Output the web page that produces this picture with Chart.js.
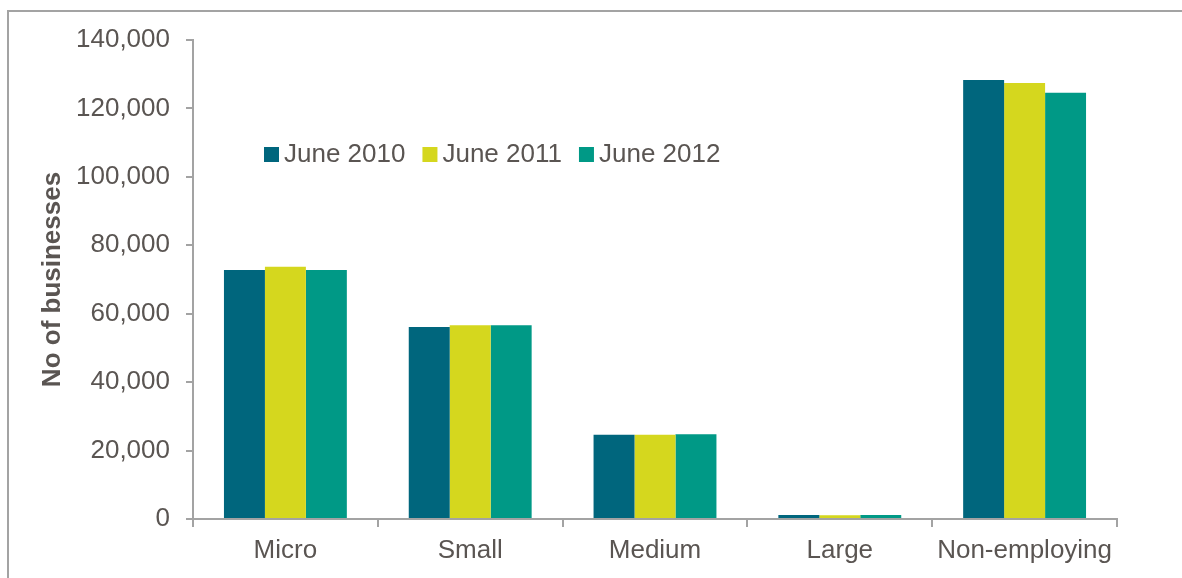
<!DOCTYPE html>
<html>
<head>
<meta charset="utf-8">
<script src="https://cdn.jsdelivr.net/npm/chart.js@4/dist/chart.umd.min.js"></script>
<style>
  html, body { margin: 0; padding: 0; background: #fff; }
  #wrap { position: relative; width: 1182px; height: 578px; overflow: hidden; }
  #frame { position: absolute; left: 7px; top: 10px; width: 1300px; height: 700px;
           border-left: 2px solid #a3a3a3; border-top: 2px solid #a3a3a3; }
  #businessChart { position: absolute; left: 0; top: 0; }
</style>
</head>
<body>
<div id="wrap">
  <div id="frame"></div>
  <canvas id="businessChart" width="1182" height="578"></canvas>
</div>
<script>
// Business counts by size band

const categories = ["Micro", "Small", "Medium", "Large", "Non-employing"];
const seriesLabels = ["June 2010", "June 2011", "June 2012"];
const june2010 = [72800, 56100, 24600, 1200, 128300];
const june2011 = [73700, 56600, 24600, 1100, 127400];
const june2012 = [72800, 56600, 24800, 1200, 124600];
const yTicks = [0, 20000, 40000, 60000, 80000, 100000, 120000, 140000];

const colors = ["#00667d", "#d5d71e", "#009986"];
const textColor = "#5a5552";
const axisColor = "#a3a3a3";
const FONT = "'Liberation Sans', Arial, sans-serif";

// legend drawn inside the plot area
const innerLegend = {
  id: "innerLegend",
  afterDraw(chart) {
    const ctx = chart.ctx;
    const area = chart.chartArea;
    let x = area.left + 71;
    const base = area.top + 122;
    ctx.save();
    ctx.font = "26px " + FONT;
    ctx.textBaseline = "alphabetic";
    chart.data.datasets.forEach((ds) => {
      ctx.fillStyle = ds.backgroundColor;
      ctx.fillRect(x, base - 15, 15, 15);
      ctx.fillStyle = textColor;
      ctx.fillText(ds.label, x + 20, base);
      x += 20 + ctx.measureText(ds.label).width + 17;
    });
    ctx.restore();
  }
};

const seriesData = [june2010, june2011, june2012];

new Chart(document.getElementById("businessChart").getContext("2d"), {
  type: "bar",
  data: {
    labels: categories,
    datasets: seriesLabels.map((label, i) => ({
      label,
      data: seriesData[i],
      backgroundColor: colors[i],
      borderWidth: 0,
      categoryPercentage: 0.665,
      barPercentage: 1
    }))
  },
  options: {
    responsive: false,
    animation: false,
    layout: { padding: { top: 40, right: 65, left: 0, bottom: 0 } },
    plugins: { legend: { display: false }, tooltip: { enabled: false } },
    scales: {
      x: {
        offset: true,
        afterFit: (scale) => { scale.height = 59; },
        grid: {
          offset: true, drawOnChartArea: false, tickLength: 8,
          color: axisColor, lineWidth: 2
        },
        border: { color: axisColor, width: 2 },
        ticks: { color: textColor, font: { family: FONT, size: 26 }, padding: 8 }
      },
      y: {
        min: 0,
        max: 140000,
        afterFit: (scale) => { scale.width = 193; },
        afterBuildTicks: (scale) => { scale.ticks = yTicks.map((v) => ({ value: v })); },
        grid: { drawOnChartArea: false, tickLength: 7, color: axisColor, lineWidth: 2 },
        border: { color: axisColor, width: 2 },
        ticks: {
          color: textColor,
          font: { family: FONT, size: 26 },
          padding: 16,
          callback: (v) => Number(v).toLocaleString("en-US")
        },
        title: {
          display: true,
          text: "No of businesses",
          color: textColor,
          font: { family: FONT, size: 26, weight: "bold" },
          padding: { top: 37, bottom: 0 }
        }
      }
    }
  },
  plugins: [innerLegend]
});
</script>
</body>
</html>
